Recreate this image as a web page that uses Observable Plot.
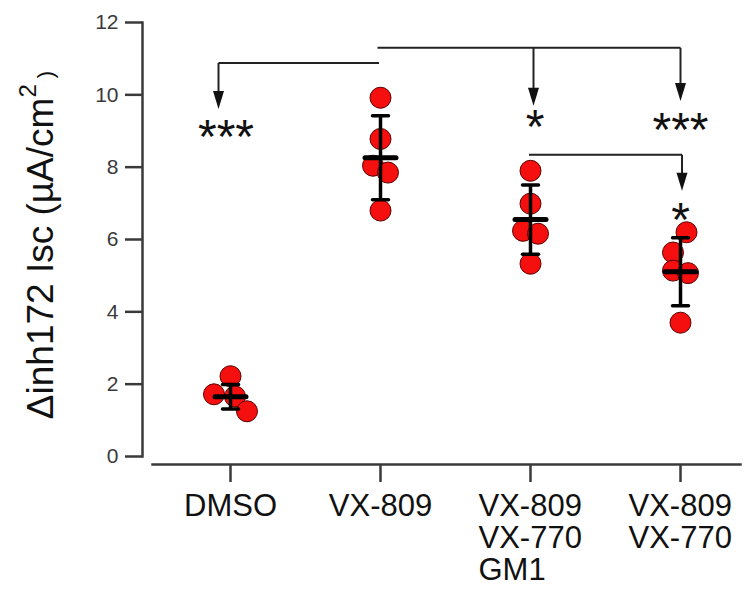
<!DOCTYPE html>
<html>
<head>
<meta charset="utf-8">
<script src="https://cdn.jsdelivr.net/npm/d3@7"></script>
<script src="https://cdn.jsdelivr.net/npm/@observablehq/plot@0.6"></script>
<style>
  html, body { margin: 0; padding: 0; background: #fff; }
  #chart svg { display: block; }
</style>
</head>
<body>
<div id="chart"></div>
<script>
// ---- data ----
const categories = ["DMSO", "VX-809", "VX-809\nVX-770\nGM1", "VX-809\nVX-770"];
const yTicks = [0, 2, 4, 6, 8, 10, 12];

// individual values per group, and their horizontal jitter (fraction of category step)
const dmsoValues   = [2.22, 1.72, 1.66, 1.25];
const dmsoJitter   = [0.00, -0.11, 0.03, 0.11];
const vx809Values  = [9.92, 8.78, 8.04, 7.85, 6.80];
const vx809Jitter  = [0.00, 0.00, -0.05, 0.05, 0.00];
const gm1Values    = [7.90, 6.99, 6.24, 6.16, 5.33];
const gm1Jitter    = [0.00, 0.00, -0.05, 0.05, 0.00];
const vx770Values  = [6.20, 5.64, 5.14, 5.07, 3.70];
const vx770Jitter  = [0.04, -0.05, -0.05, 0.05, 0.00];

const means = [1.65, 8.26, 6.55, 5.11];
const sds   = [0.34, 1.16, 0.96, 0.94];

// significance brackets (x in category index units, y in data units)
const bracketLines = [
  {x1: -0.08, x2: 0.99, y1: 10.88, y2: 10.88},
  {x1: -0.08, x2: -0.08, y1: 10.88, y2: 9.8},
  {x1: 0.98, x2: 3.0, y1: 11.3, y2: 11.3},
  {x1: 2.02, x2: 2.02, y1: 11.3, y2: 9.85},
  {x1: 3.0, x2: 3.0, y1: 11.3, y2: 10.0},
  {x1: 1.99, x2: 3.01, y1: 8.34, y2: 8.34},
  {x1: 3.01, x2: 3.01, y1: 8.34, y2: 7.5}
];
const arrowTips = [
  {x: -0.08, y: 9.61},
  {x: 2.02, y: 9.70},
  {x: 3.0, y: 9.83},
  {x: 3.01, y: 7.35}
];
const stars = [
  {x: -0.03, y: 9.09, label: "***"},
  {x: 2.03, y: 9.36, label: "*"},
  {x: 3.0, y: 9.28, label: "***"},
  {x: 3.0, y: 6.8, label: "*"}
];

// ---- build tidy table ----
const groups = [
  [dmsoValues, dmsoJitter],
  [vx809Values, vx809Jitter],
  [gm1Values, gm1Jitter],
  [vx770Values, vx770Jitter]
];
const points = groups.flatMap(([vals, jit], i) => vals.map((v, k) => ({x: i + jit[k], y: v})));
const stats = means.map((m, i) => ({x: i, mean: m, lo: m - sds[i], hi: m + sds[i]}));
const labelRows = categories.map((c, i) => ({x: i, text: c, multi: c.includes("\n")}));

const lineShape = {draw(context, length) { context.moveTo(0, 0); context.lineTo(0, -length); }};
const arrowHead = {draw(context) { context.moveTo(0, 0); context.lineTo(-5.5, -18); context.lineTo(5.5, -18); context.closePath(); }};

const FONT = "'Liberation Sans', Arial, Helvetica, sans-serif";
const AX = "#3a3a3a";

const chart = Plot.plot({
  width: 747,
  height: 589,
  marginTop: 22,
  marginBottom: 133,
  marginLeft: 142,
  marginRight: 7,
  style: {fontFamily: FONT, background: "#fff"},
  x: {type: "linear", domain: [0, 3], range: [230, 680]},
  y: {domain: [0, 12], range: [456, 22]},
  marks: [
    // y axis
    Plot.frame({anchor: "left", stroke: AX, strokeWidth: 2.5}),
    Plot.axisY({ticks: yTicks, tickSize: 17, tickPadding: 7, fontSize: 21, stroke: AX, strokeWidth: 2.5, fill: AX, label: null}),
    // x axis (line + ticks)
    Plot.frame({anchor: "bottom", dy: 8, insetLeft: 10, stroke: AX, strokeWidth: 2.5}),
    Plot.axisX({ticks: [0, 1, 2, 3], tickFormat: () => "", tickSize: 18, dy: 8, stroke: AX, strokeWidth: 2.5, label: null}),
    // category labels: single-line centred, multi-line as a left-aligned block centred on the tick
    Plot.text(labelRows.filter(d => !d.multi), {x: "x", y: () => 0, text: "text", dy: 37, lineAnchor: "top",
      textAnchor: "middle", fontSize: 31, fill: "#111"}),
    Plot.text(labelRows.filter(d => d.multi), {x: "x", y: () => 0, text: "text", dy: 37, dx: -52, lineAnchor: "top",
      textAnchor: "start", fontSize: 31, lineHeight: 1.03, fill: "#111"}),
    // points
    Plot.dot(points, {x: "x", y: "y", r: 10.5, fill: "#f50f0f", stroke: "#5a0000", strokeWidth: 1}),
    // error bars
    Plot.ruleX(stats, {x: "x", y1: "lo", y2: "hi", stroke: "#000", strokeWidth: 3.5}),
    Plot.vector(stats, {x: "x", y: "lo", length: 16, rotate: 90, anchor: "middle", shape: lineShape, stroke: "#000", strokeWidth: 3.5}),
    Plot.vector(stats, {x: "x", y: "hi", length: 16, rotate: 90, anchor: "middle", shape: lineShape, stroke: "#000", strokeWidth: 3.5}),
    Plot.vector(stats, {x: "x", y: "mean", length: 31, rotate: 90, anchor: "middle", shape: lineShape, stroke: "#000", strokeWidth: 5}),
    // brackets
    Plot.link(bracketLines, {x1: "x1", x2: "x2", y1: "y1", y2: "y2", stroke: "#222", strokeWidth: 2}),
    Plot.dot(arrowTips, {x: "x", y: "y", symbol: arrowHead, fill: "#111", stroke: "none"}),
    Plot.text(stars, {x: "x", y: "y", text: "label", fontSize: 48, dy: 10, fill: "#111", lineAnchor: "middle"})
  ]
});

// y-axis title with superscript
const svg = d3.select(chart);
const title = svg.append("text")
  .attr("transform", "translate(53,245) rotate(-90)")
  .attr("text-anchor", "middle")
  .attr("font-family", FONT)
  .attr("font-size", 37)
  .attr("fill", "#111");
title.append("tspan").text("Δinh172 Isc (µA/cm");
title.append("tspan").attr("font-size", 24).attr("dy", -17).text("2");
title.append("tspan").attr("font-size", 22).attr("dy", 17).text(" )");

document.getElementById("chart").appendChild(chart);
</script>
</body>
</html>
